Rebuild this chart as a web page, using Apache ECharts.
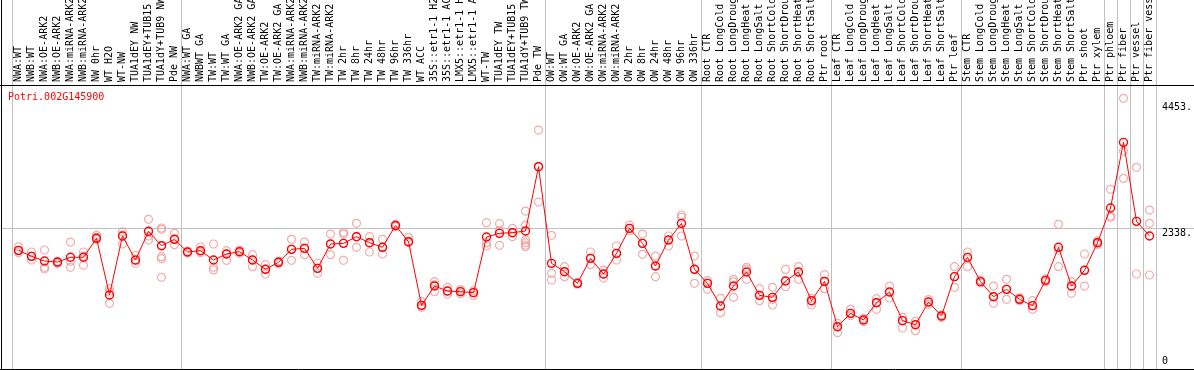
<!DOCTYPE html>
<html>
<head>
<meta charset="utf-8">
<script src="https://cdn.jsdelivr.net/npm/echarts@6/dist/echarts.min.js"></script>
<style>
html,body{margin:0;padding:0;background:#fff;}
#chart{width:1194px;height:370px;}
</style>
</head>
<body>
<div id="chart"></div>
<script>
const geneName = "Potri.002G145900";

const categories = [
  "NWA:WT","NWB:WT","NWA:OE-ARK2","NWB:OE-ARK2","NWA:miRNA-ARK2","NWB:miRNA-ARK2","NW 0hr","WT H2O","WT-NW","TUA1dEY NW","TUA1dEY+TUB15","TUA1dY+TUB9 NW","Pde NW",
  "NWA:WT GA","NWBWT GA","TW:WT","TW:WT GA","NWA:OE-ARK2 GA","NWB:OE-ARK2 GA","TW:OE-ARK2","TW:OE-ARK2 GA","NWA:miRNA-ARK2","NWB:miRNA-ARK2","TW:miRNA-ARK2","TW:miRNA-ARK2","TW 2hr","TW 8hr","TW 24hr","TW 48hr","TW 96hr","TW 336hr","WT ACC","35S::etr1-1 H2O","35S::etr1-1 ACC","LMX5::etr1-1 H2O","LMX5::etr1-1 ACC","WT-TW","TUA1dEY TW","TUA1dEY+TUB15","TUA1dY+TUB9 TW","Pde TW",
  "OW:WT","OW:WT GA","OW:OE-ARK2","OW:OE-ARK2 GA","OW:miRNA-ARK2","OW:miRNA-ARK2","OW 2hr","OW 8hr","OW 24hr","OW 48hr","OW 96hr","OW 336hr",
  "Root CTR","Root LongCold","Root LongDrought","Root LongHeat","Root LongSalt","Root ShortCold","Root ShortDrought","Root ShortHeat","Root ShortSalt","Ptr root",
  "Leaf CTR","Leaf LongCold","Leaf LongDrought","Leaf LongHeat","Leaf LongSalt","Leaf ShortCold","Leaf ShortDrought","Leaf ShortHeat","Leaf ShortSalt","Ptr leaf",
  "Stem CTR","Stem LongCold","Stem LongDrought","Stem LongHeat","Stem LongSalt","Stem ShortCold","Stem ShortDrought","Stem ShortHeat","Stem ShortSalt","Ptr shoot","Ptr xylem",
  "Ptr phloem","Ptr fiber","Ptr vessel","Ptr fiber vessel"
];

// mean expression per sample
const means = [
  1961,1860,1781,1764,1844,1844,2164,1208,2203,1798,2282,2039,2147,
  1933,1955,1798,1899,1938,1798,1641,1759,1978,1995,1657,2068,2079,2191,2090,2012,2380,2107,1033,1359,1275,1264,1247,2186,2248,2259,2287,3372,
  1742,1601,1404,1826,1562,1910,2332,2079,1697,2135,2416,1641,
  1404,1022,1359,1596,1202,1168,1444,1596,1112,1438,
  673,898,786,1078,1258,775,707,1090,853,1517,
  1843,1433,1179,1303,1135,1028,1455,2012,1359,1624,2090,
  2675,3783,2450,2203
];

// replicate values per sample
const replicates = [
  [2022,1950,1921],[1933,1860,1798],[1967,1675,1646],[1770,1750,1740],[2101,1776,1675],[1933,1866,1709],[2214,2180,2147],[1314,1258,1068],[2275,2220,2068],[1878,1790,1743],[2485,2203,2135],[2338,2316,2039,1854,1820,1506],[2248,2147,2056],
  [1950,1933,1915],[2022,1955,1921],[2068,1675,1630],[1955,1899,1793],[1965,1938,1910],[1888,1798,1685],[1720,1641,1562],[1780,1759,1735],[2147,1978,1793],[2101,1995,1888],[1743,1657,1574],[2236,2068,1888],[2265,2236,1793],[2417,2191,2012],[2191,2090,1933],[2147,2012,1899],[2400,2380,2360],[2180,2107,2090],[1095,1033,1000],[1432,1380,1264],[1337,1275,1224],[1300,1264,1230],[1280,1247,1200],[2428,2090,2034],[2411,2300,2045],[2332,2259,2191],[2624,2388,2135,2090,2051,2023],[3990,3372,2776],
  [2214,1573,1461],[1685,1601,1517],[1420,1404,1390],[1933,1826,1719],[1629,1562,1494],[2034,1910,1798],[2388,2332,2290],[2236,2079,1894],[1865,1697,1517],[2203,2135,2034],[2557,2518,2203],[1865,1641,1404],
  [1450,1404,1303],[1151,1022,910],[1472,1430,1168],[1674,1640,1472],[1314,1202,1112],[1337,1130,1039],[1640,1444,1348],[1685,1596,1472],[1150,1112,1039],[1550,1438,1314],
  [730,673,572],[966,898,860],[810,786,760],[1146,1078,966],[1359,1258,1157],[831,775,651],[764,707,606],[1130,1090,1050],[875,853,830],[1685,1517,1337],
  [1933,1843,1685],[1460,1433,1410],[1359,1179,1067],[1472,1303,1135],[1160,1135,1110],[1112,1028,966],[1480,1455,1430],[2400,1967,1685],[1433,1359,1236],[1899,1624,1359],[2120,2090,2060],
  [2990,2540,2518],[4525,3636,3175],[3361,1562],[2641,2416,1545]
];

// number of samples in each separated group
const groupSizes = [13,28,12,10,10,11,1,1,1,1];

const axisTickValues = [0,2338,4453];
const axisTickLabels = ["0","2338.","4453."];

const scatterData = [];
replicates.forEach((arr,i)=>arr.forEach(v=>scatterData.push([i,v])));

const mono = "DejaVu Sans Mono";
const chart = echarts.init(document.getElementById('chart'), null, {renderer:'canvas'});

chart.setOption({
  animation:false,
  backgroundColor:'#fff',
  title:{text:geneName,left:8,top:92,padding:0,
    textStyle:{fontFamily:mono,fontSize:10,fontWeight:'normal',color:'#ff0000'}},
  grid:{left:12,right:38,top:85,bottom:3.4,containLabel:false,outerBoundsMode:'none'},
  xAxis:{type:'category',position:'top',data:categories,boundaryGap:true,
    axisLine:{show:false},axisTick:{show:false},splitLine:{show:false},
    axisLabel:{interval:0,rotate:90,margin:3,fontFamily:mono,fontSize:10,color:'#000',hideOverlap:false}},
  yAxis:{type:'value',min:0,max:4750,show:true,
    axisLine:{show:false},axisTick:{show:false},axisLabel:{show:false},splitLine:{show:false}},
  series:[
    {type:'scatter',data:scatterData,symbol:'circle',symbolSize:8,z:2,
      itemStyle:{color:'rgba(0,0,0,0)',borderColor:'#ee9a9a',borderWidth:1.2}},
    {type:'line',data:means,symbol:'circle',symbolSize:8,z:3,showAllSymbol:true,
      lineStyle:{color:'#ff0000',width:1},
      itemStyle:{color:'rgba(0,0,0,0)',borderColor:'#ff0000',borderWidth:1.4}}
  ]
});

// separators, frame and right-hand value labels positioned through the chart scales
const c0 = chart.convertToPixel({xAxisIndex:0},0);
const c1 = chart.convertToPixel({xAxisIndex:0},1);
const band = c1 - c0;
const W = 1194;
const yTopGrid = 85;
const elements = [];
let idx = 0;
const bounds = [0];
groupSizes.forEach(s=>{idx+=s;bounds.push(idx);});
bounds.forEach(b=>{
  const x = Math.round(c0 - band/2 + b*band) + 0.5;
  elements.push({type:'line',shape:{x1:x,y1:0,x2:x,y2:369},style:{stroke:'#c0c0c0',lineWidth:1},z:1});
});
const yGrid = Math.round(chart.convertToPixel({yAxisIndex:0},2338)) + 0.5;
elements.push({type:'line',shape:{x1:1,y1:yGrid,x2:W,y2:yGrid},style:{stroke:'#c0c0c0',lineWidth:1},z:1});
// frame
elements.push({type:'line',shape:{x1:0,y1:yTopGrid+0.5,x2:W,y2:yTopGrid+0.5},style:{stroke:'#000',lineWidth:1},z:5});
elements.push({type:'line',shape:{x1:0,y1:369.5,x2:W,y2:369.5},style:{stroke:'#000',lineWidth:1},z:5});
elements.push({type:'line',shape:{x1:1.5,y1:0,x2:1.5,y2:370},style:{stroke:'#000',lineWidth:1},z:5});
// value labels
axisTickValues.forEach((v,i)=>{
  const y = chart.convertToPixel({yAxisIndex:0},v);
  elements.push({type:'text',x:1162,y:y,
    style:{text:axisTickLabels[i],font:'10px "DejaVu Sans Mono"',fill:'#000',
      textAlign:'left',textVerticalAlign:v===0?'bottom':'top'},z:5});
});
chart.setOption({graphic:{elements:elements}});
</script>
</body>
</html>
